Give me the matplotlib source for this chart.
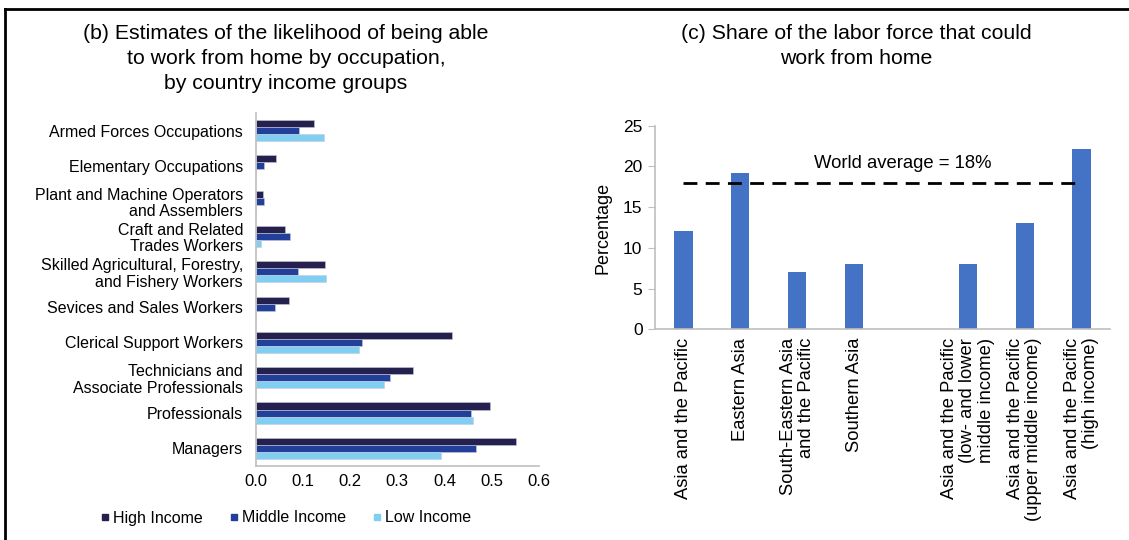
import numpy as np
import matplotlib
matplotlib.use('Agg')
import matplotlib.pyplot as plt
from matplotlib.lines import Line2D

plt.rcParams["font.family"] = ["Liberation Sans", "DejaVu Sans"]

# 左图：按职业与收入组
occupations = [
    "Armed Forces Occupations",
    "Elementary Occupations",
    "Plant and Machine Operators\nand Assemblers",
    "Craft and Related\nTrades Workers",
    "Skilled Agricultural, Forestry,\nand Fishery Workers",
    "Sevices and Sales Workers",
    "Clerical Support Workers",
    "Technicians and\nAssociate Professionals",
    "Professionals",
    "Managers",
]
high_income = [0.123, 0.044, 0.015, 0.063, 0.148, 0.070, 0.416, 0.333, 0.497, 0.551]
middle_income = [0.093, 0.017, 0.019, 0.074, 0.091, 0.042, 0.226, 0.284, 0.457, 0.467]
low_income = [0.144, 0.002, 0.0, 0.011, 0.150, 0.002, 0.220, 0.272, 0.460, 0.392]
income_names = ["High Income", "Middle Income", "Low Income"]
income_colors = ["#24214F", "#22409A", "#80CFF3"]

# 右图：劳动力占比
regions = [
    "Asia and the Pacific",
    "Eastern Asia",
    "South-Eastern Asia\nand the Pacific",
    "Southern Asia",
    "",
    "Asia and the Pacific\n(low- and lower\nmiddle income)",
    "Asia and the Pacific\n(upper middle income)",
    "Asia and the Pacific\n(high income)",
]
share = [12.1, 19.2, 7.0, 8.0, np.nan, 8.0, 13.1, 22.2]
world_avg = 18

fig = plt.figure(figsize=(11.29, 5.4), dpi=100)

# ---- 左图 ----
ax1 = fig.add_axes([255.5 / 1129, 1 - 466 / 540, (539 - 255.5) / 1129, 353 / 540])
n = len(occupations)
y = np.arange(n)[::-1]
h = 0.2
series = [high_income, middle_income, low_income]
for k, (vals, col, name) in enumerate(zip(series, income_colors, income_names)):
    ax1.barh(y + (1 - k) * h, vals, height=h, color=col, edgecolor="#C8C8D8",
             linewidth=0.4, label=name)
ax1.set_ylim(-0.5, n - 0.5)
ax1.set_xlim(0, 0.6)
ax1.set_xticks(np.arange(0, 0.61, 0.1))
ax1.set_xticklabels([f"{v:.1f}" for v in np.arange(0, 0.61, 0.1)], fontsize=12)
ax1.set_yticks(y)
ax1.set_yticklabels(occupations, fontsize=11.5, linespacing=1.12)
ax1.tick_params(axis="y", length=0, pad=9)
ax1.tick_params(axis="x", length=0, pad=6)
for s in ["top", "right"]:
    ax1.spines[s].set_visible(False)
for s in ["left", "bottom"]:
    ax1.spines[s].set_color("#BFBFBF")
    ax1.spines[s].set_linewidth(1.2)

fig.text(286 / 1129, 1 - 58.5 / 540,
         "(b) Estimates of the likelihood of being able\nto work from home by occupation,\nby country income groups",
         ha="center", va="center", fontsize=15.3, linespacing=1.38)

handles = [Line2D([], [], marker="s", linestyle="none", markersize=5,
                  markerfacecolor=c, markeredgecolor=c) for c in income_colors]
fig.legend(handles, income_names, loc="center", bbox_to_anchor=(286 / 1129, 1 - 518 / 540),
           ncol=3, frameon=False, handlelength=0.5, handletextpad=0.25, columnspacing=1.7,
           prop={"family": ["Liberation Sans Narrow", "Liberation Sans"], "size": 11.5})

# ---- 右图 ----
ax2 = fig.add_axes([655 / 1129, 1 - 329.3 / 540, 455 / 1129, 203.6 / 540])
x = np.arange(len(regions))
ax2.bar(x, share, width=0.32, color="#4472C4")
ax2.set_xlim(-0.5, len(regions) - 0.5)
ax2.set_ylim(0, 25)
ax2.set_yticks(range(0, 26, 5))
ax2.tick_params(axis="y", labelsize=12.5, length=5, color="#BFBFBF", pad=4)
ax2.set_xticks(x)
ax2.set_xticklabels(regions, rotation=90, fontsize=13.2, va="top", ha="center",
                    multialignment="right", linespacing=1.1)
ax2.tick_params(axis="x", length=0, pad=6)
for s in ["top", "right"]:
    ax2.spines[s].set_visible(False)
for s in ["left", "bottom"]:
    ax2.spines[s].set_color("#BFBFBF")
    ax2.spines[s].set_linewidth(1.2)
ax2.set_ylabel("Percentage", fontsize=13, labelpad=8)

ax2.plot([x[0], x[-1]], [world_avg, world_avg], color="black", linestyle=(0, (5, 3)),
         linewidth=2)
ax2.text(3.86, 20.4, "World average = 18%", ha="center", va="center", fontsize=13.3)

fig.text(856 / 1129, 1 - 46 / 540, "(c) Share of the labor force that could\nwork from home",
         ha="center", va="center", fontsize=15.3, linespacing=1.38)

# 外框
fig.add_artist(Line2D([4.5 / 1129, 1], [1 - 8.5 / 540, 1 - 8.5 / 540], color="black",
                      linewidth=2, transform=fig.transFigure))
fig.add_artist(Line2D([4.5 / 1129, 4.5 / 1129], [0, 1 - 8.5 / 540], color="black",
                      linewidth=2, transform=fig.transFigure))

fig.savefig("out.png", dpi=100)
